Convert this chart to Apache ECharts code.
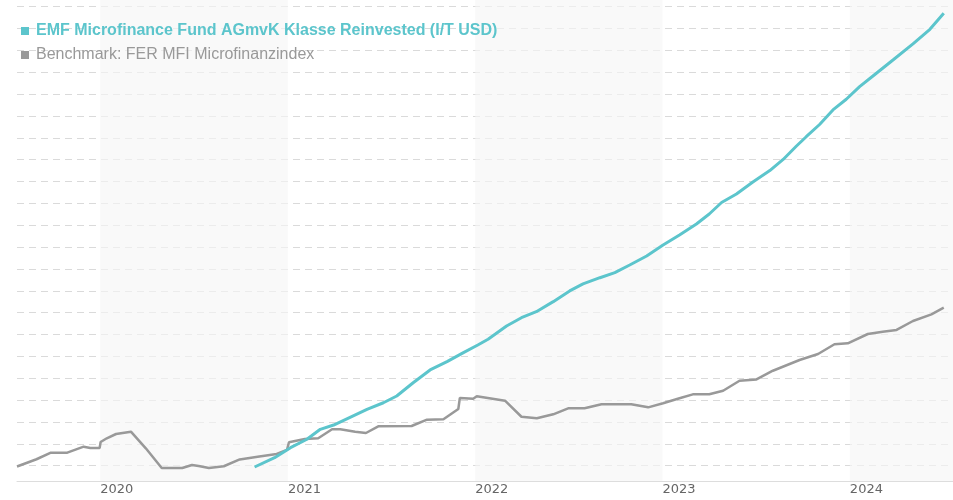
<!DOCTYPE html>
<html>
<head>
<meta charset="utf-8">
<script src="https://cdn.jsdelivr.net/npm/echarts@6/dist/echarts.min.js"></script>
<style>
  html, body { margin: 0; padding: 0; background: #fff; }
  #chart { width: 953px; height: 500px; }
</style>
</head>
<body>
<div id="chart"></div>
<script>
var fundName = 'EMF Microfinance Fund AGmvK Klasse Reinvested (I/T USD)'
var benchName = 'Benchmark: FER MFI Microfinanzindex'

// indexed values
var fundDates = ['2020-10-28','2020-12-06','2021-01-06','2021-02-07','2021-03-05','2021-03-31','2021-05-02',
    '2021-06-04','2021-07-06','2021-08-01','2021-09-02','2021-10-05','2021-11-07','2021-12-09','2022-01-06',
    '2022-01-26','2022-03-03','2022-04-01','2022-04-30','2022-06-02','2022-07-04','2022-07-30','2022-09-01',
    '2022-09-30','2022-10-29','2022-12-01','2023-01-02','2023-02-03','2023-03-08','2023-04-02','2023-04-26',
    '2023-05-25','2023-06-26','2023-07-29','2023-08-24','2023-09-19','2023-10-08','2023-11-03','2023-11-29',
    '2023-12-25','2024-01-20','2024-02-15','2024-03-25','2024-05-03','2024-06-05','2024-07-02']
var fundValues = [99.88, 100.73, 101.65, 102.42, 103.33, 103.72, 104.43,
    105.16, 105.76, 106.38, 107.59, 108.76, 109.52, 110.34, 111.04,
    111.57, 112.78, 113.54, 114.09, 115.01, 115.99, 116.63, 117.2,
    117.66, 118.36, 119.19, 120.19, 121.11, 122.12, 123.03, 124.08,
    124.86, 125.96, 127.0, 128.02, 129.25, 130.1, 131.22, 132.55,
    133.53, 134.68, 135.66, 137.12, 138.59, 139.93, 141.39]

var benchDates = ['2019-07-23','2019-08-30','2019-09-27','2019-10-29','2019-11-30','2019-12-13','2019-12-31',
    '2020-01-02','2020-01-14','2020-02-01','2020-03-01','2020-03-30','2020-04-30','2020-06-09','2020-06-28',
    '2020-07-11','2020-07-31','2020-08-29','2020-09-29','2020-11-03','2020-12-10','2020-12-30','2021-01-03',
    '2021-02-03','2021-03-01','2021-03-28','2021-04-13','2021-05-12','2021-06-02','2021-06-26','2021-08-30',
    '2021-09-29','2021-10-31','2021-11-29','2021-12-02','2021-12-28','2022-01-04','2022-02-28','2022-04-01',
    '2022-05-01','2022-06-02','2022-07-01','2022-08-02','2022-09-04','2022-11-01','2022-12-04','2023-01-02',
    '2023-02-03','2023-03-01','2023-04-02','2023-04-29','2023-05-31','2023-07-03','2023-08-04','2023-09-25',
    '2023-10-31','2023-12-02','2023-12-28','2024-02-05','2024-03-05','2024-04-01','2024-05-03','2024-06-08',
    '2024-07-02']
var benchValues = [99.93, 100.59, 101.19, 101.19, 101.74, 101.62, 101.62,
    102.17, 102.51, 102.9, 103.11, 101.59, 99.79, 99.79, 100.06,
    99.97, 99.79, 99.95, 100.57, 100.82, 101.07, 101.44, 102.14,
    102.44, 102.51, 103.33, 103.33, 103.11, 102.99, 103.6, 103.63,
    104.21, 104.25, 105.19, 106.19, 106.12, 106.35, 105.95, 104.48,
    104.34, 104.7, 105.25, 105.25, 105.62, 105.62, 105.34, 105.71,
    106.17, 106.53, 106.53, 106.86, 107.77, 107.89, 108.69, 109.67,
    110.22, 111.11, 111.2, 112.05, 112.26, 112.42, 113.24, 113.85,
    114.46]

// shaded years
var bandStarts = ['2020-01-01', '2022-01-01', '2024-01-01']
var bandEnds = ['2021-01-01', '2023-01-01', '2024-07-20']

var axisStart = '2019-07-23'
var axisEnd = '2024-07-20'

function pairs(dates, values) {
    var out = []
    for (var i = 0; i < dates.length; i++) {
        out.push([dates[i], values[i]])
    }
    return out
}

var bands = []
for (var i = 0; i < bandStarts.length; i++) {
    bands.push([{xAxis: bandStarts[i]}, {xAxis: bandEnds[i]}])
}

var teal = '#5cc5cc'
var grey = '#999999'
var year = 365 * 24 * 3600 * 1000

var option = {
    animation: false,
    grid: {
        left: 17,
        right: 0,
        top: 0,
        bottom: 19
    },
    legend: {
        orient: 'vertical',
        left: 21,
        top: 23,
        padding: 0,
        icon: 'rect',
        itemWidth: 8,
        itemHeight: 8,
        itemGap: 8,
        selectedMode: false,
        textStyle: {
            fontFamily: '"Liberation Sans", Arial, sans-serif',
            fontSize: 16,
            padding: [0, 0, 0, 2]
        },
        data: [
            {name: fundName, textStyle: {color: teal, fontWeight: 'bold'}},
            {name: benchName, textStyle: {color: grey, fontWeight: 'normal'}}
        ]
    },
    xAxis: {
        type: 'time',
        min: axisStart,
        max: axisEnd,
        minInterval: year,
        maxInterval: year + 2 * 24 * 3600 * 1000,
        axisLine: {show: true, lineStyle: {color: '#dddddd', width: 1}},
        axisTick: {show: false},
        splitLine: {show: false},
        axisLabel: {
            formatter: '{yyyy}',
            align: 'left',
            margin: 2,
            color: '#666666',
            fontFamily: '"DejaVu Sans", Verdana, sans-serif',
            fontSize: 13,
            showMinLabel: false,
            showMaxLabel: false
        }
    },
    yAxis: {
        type: 'value',
        min: 98.6,
        max: 142.61,
        splitNumber: 22,
        axisLine: {show: false},
        axisTick: {show: false},
        axisLabel: {show: false},
        splitLine: {
            show: true,
            showMinLine: false,
            showMaxLine: false,
            lineStyle: {color: '#dadada', width: 1, type: [7, 5]}
        }
    },
    series: [
        {
            name: 'bands',
            type: 'line',
            data: [],
            z: 1,
            silent: true,
            markArea: {
                silent: true,
                itemStyle: {color: 'rgba(246,246,246,0.66)'},
                data: bands
            }
        },
        {
            name: fundName,
            type: 'line',
            data: pairs(fundDates, fundValues),
            showSymbol: false,
            z: 4,
            color: teal,
            lineStyle: {color: teal, width: 3}
        },
        {
            name: benchName,
            type: 'line',
            data: pairs(benchDates, benchValues),
            showSymbol: false,
            z: 3,
            color: grey,
            lineStyle: {color: grey, width: 2.5}
        }
    ]
}

var chart = echarts.init(document.getElementById('chart'))
chart.setOption(option)
</script>
</body>
</html>
